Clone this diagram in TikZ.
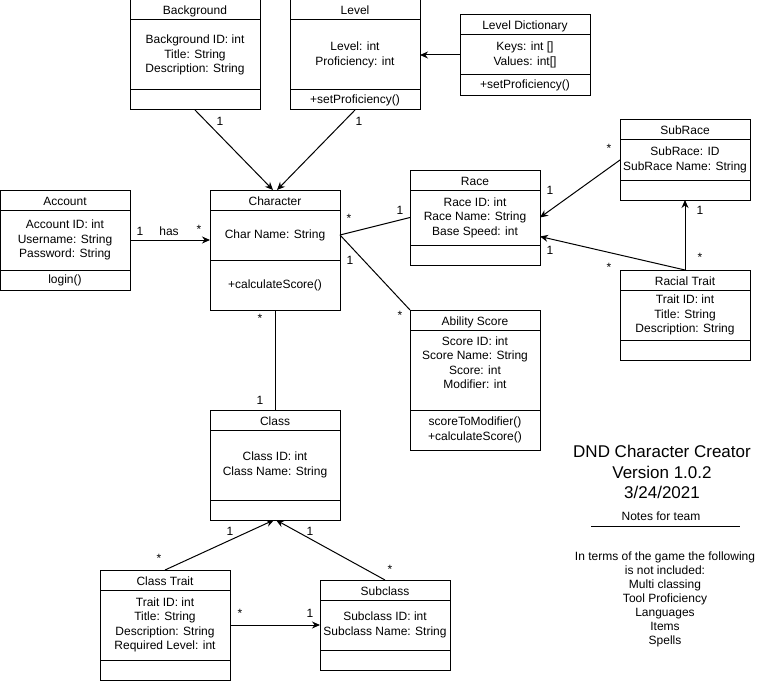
\documentclass[tikz,border=0pt]{standalone}
\usepackage{fontspec}
\setmainfont{Liberation Sans}
\usetikzlibrary{positioning,arrows.meta}
\tikzset{
  umlhead/.style={draw, minimum width=130, minimum height=20, inner sep=0pt, outer sep=0pt, text height=11pt, text depth=1pt, font=\fontsize{12}{14.5}\selectfont},
  umlpart/.style={draw, minimum width=130, minimum height=#1, inner sep=0pt, outer sep=0pt, align=center, font=\fontsize{12}{14.5}\selectfont},
  mult/.style={inner sep=0pt, font=\fontsize{12}{14}\selectfont},
  navig/.style={-{Stealth[length=8pt,width=7pt]}},
}
\begin{document}
\begin{tikzpicture}[x=1pt,y=-1pt,line width=1pt]
			\useasboundingbox (0,0) rectangle (771,682);
			% classes
			\node[umlhead] (bgh) at (195,10) {Background};
			\node[umlpart=70, below=0pt of bgh] (bga) {Background ID: int\\Title: String\\Description: String};
			\node[umlpart=20, below=0pt of bga] (bgm) {};
			\node[umlhead] (lvh) at (355,10) {Level};
			\node[umlpart=70, below=0pt of lvh] (lva) {Level: int\\Proficiency: int};
			\node[umlpart=20, below=0pt of lva] (lvm) {+setProficiency()};
			\node[umlhead] (ldh) at (525,25) {Level Dictionary};
			\node[umlpart=40, below=0pt of ldh] (lda) {Keys: int []\\Values: int[]};
			\node[umlpart=21, below=0pt of lda] (ldm) {+setProficiency()};
			\node[umlhead] (ach) at (65,200) {Account};
			\node[umlpart=60, below=0pt of ach] (aca) {Account ID: int\\Username: String\\Password: String};
			\node[umlpart=20, below=0pt of aca] (acm) {login()};
			\node[umlhead] (chh) at (275,200) {Character};
			\node[umlpart=50, below=0pt of chh] (cha) {Char Name: String};
			\node[umlpart=50, below=0pt of cha] (chm) {+calculateScore()};
			\node[umlhead] (rch) at (475,180) {Race};
			\node[umlpart=55, below=0pt of rch] (rca) {Race ID: int\\Race Name: String\\Base Speed: int};
			\node[umlpart=20, below=0pt of rca] (rcm) {};
			\node[umlhead] (srh) at (685,130) {SubRace};
			\node[umlpart=40, below=0pt of srh] (sra) {SubRace: ID\\SubRace Name: String};
			\node[umlpart=20, below=0pt of sra] (srm) {};
			\node[umlhead] (rth) at (685,280) {Racial Trait};
			\node[umlpart=50, below=0pt of rth] (rta) {Trait ID: int\\Title: String\\Description: String};
			\node[umlpart=20, below=0pt of rta] (rtm) {};
			\node[umlhead] (abh) at (475,320) {Ability Score};
			\node[umlpart=80, below=0pt of abh] (aba) {Score ID: int\\Score Name: String\\Score: int\\Modifier: int\\\mbox{}};
			\node[umlpart=40, below=0pt of aba] (abm) {scoreToModifier()\\+calculateScore()};
			\node[umlhead] (clh) at (275,420) {Class};
			\node[umlpart=70, below=0pt of clh] (cla) {Class ID: int\\Class Name: String};
			\node[umlpart=20, below=0pt of cla] (clm) {};
			\node[umlhead] (cth) at (165,580) {Class Trait};
			\node[umlpart=70, below=0pt of cth] (cta) {Trait ID: int\\Title: String\\Description: String\\Required Level: int};
			\node[umlpart=20, below=0pt of cta] (ctm) {};
			\node[umlhead] (sch) at (385,590) {Subclass};
			\node[umlpart=50, below=0pt of sch] (sca) {Subclass ID: int\\Subclass Name: String};
			\node[umlpart=20, below=0pt of sca] (scm) {};
			% connectors
			\draw[navig] (bgm.south) -- ([xshift=-2]chh.north);
			\draw[navig] (lvm.south) -- ([xshift=2]chh.north);
			\draw[navig] (lda.west) -- (lva.east);
			\draw[navig] (aca.east) -- (aca.east -| cha.west);
			\draw (cha.east) -- (rca.west);
			\draw (cha.east) -- (abh.north west);
			\draw (chm.south) -- (clh.north);
			\draw[navig] (sra.west) -- (rca.east);
			\draw[navig] (rth.north) -- ([yshift=-19]rca.east);
			\draw[navig] (rth.north) -- (srm.south);
			\draw[navig] (cth.north) -- ([xshift=-1]clm.south);
			\draw[navig] (sch.north) -- ([xshift=1]clm.south);
			\draw[navig] (cta.east) -- (sca.west);
			% multiplicities
			\node[mult] (m1) at (220,121) {1};
			\node[mult] (m2) at (359,121) {1};
			\node[mult] (m3) at (140,231) {1};
			\node[mult] (m4) at (169,231) {has};
			\node[mult] (m5) at (199,229) {*};
			\node[mult] (m6) at (349,218) {*};
			\node[mult] (m7) at (400,210) {1};
			\node[mult] (m8) at (350,260) {1};
			\node[mult] (m9) at (400,315) {*};
			\node[mult] (m10) at (260,318) {*};
			\node[mult] (m11) at (260,400) {1};
			\node[mult] (m12) at (609,148) {*};
			\node[mult] (m13) at (550,190) {1};
			\node[mult] (m14) at (550,250) {1};
			\node[mult] (m15) at (609,267) {*};
			\node[mult] (m16) at (700,210) {1};
			\node[mult] (m17) at (700,257) {*};
			\node[mult] (m18) at (159,558) {*};
			\node[mult] (m19) at (230,531) {1};
			\node[mult] (m20) at (310,531) {1};
			\node[mult] (m21) at (390,569) {*};
			\node[mult] (m22) at (240,613) {*};
			\node[mult] (m23) at (310,613) {1};
			% notes
			\node[align=center, inner sep=0pt, font=\fontsize{17}{20.5}\selectfont] (ttl) at (662,472) {DND Character Creator\\Version 1.0.2\\3/24/2021};
			\node[inner sep=0pt, font=\fontsize{12}{14}\selectfont] (nts) at (661,516) {Notes for team};
			\coordinate (nl) at (591,526);
			\coordinate (nr) at (740,526);
			\draw (nl) -- (nr);
			\node[align=center, inner sep=0pt, font=\fontsize{12}{14}\selectfont] (lst) at (665,599) {In terms of the game the following\\is not included:\\Multi classing\\Tool Proficiency\\Languages\\Items\\Spells};
		\end{tikzpicture}
\end{document}
